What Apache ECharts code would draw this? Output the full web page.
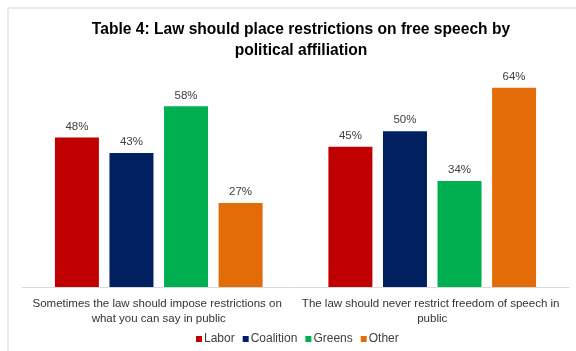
<!DOCTYPE html>
<html><head><meta charset="utf-8">
<script src="https://cdn.jsdelivr.net/npm/echarts@6/dist/echarts.min.js"></script>
<style>html,body{margin:0;padding:0;background:#fff}#c{width:576px;height:351px}</style>
</head><body><div id="c"></div>
<script>
const titleText = 'Table 4: Law should place restrictions on free speech by\npolitical affiliation';
const categories = ['Sometimes the law should impose restrictions on what you can say in public', 'The law should never restrict freedom of speech in public'];
const seriesNames = ['Labor', 'Coalition', 'Greens', 'Other'];
const labor = [48, 45];
const coalition = [43, 50];
const greens = [58, 34];
const other = [27, 64];
const colors = ['#C00000', '#002060', '#00B050', '#E36C09'];
const values = [labor, coalition, greens, other];

const chart = echarts.init(document.getElementById('c'), null, {renderer: 'canvas'});
chart.setOption({
  animation: false,
  textStyle: {fontFamily: 'Liberation Sans, Arial, sans-serif'},
  graphic: [
    {type: 'line', shape: {x1: 8, y1: 8, x2: 576, y2: 8}, style: {stroke: '#ebebeb', lineWidth: 2}, silent: true},
    {type: 'line', shape: {x1: 8, y1: 8, x2: 8, y2: 351}, style: {stroke: '#ebebeb', lineWidth: 2}, silent: true}
  ],
  title: {
    text: titleText, left: 301, textAlign: 'center', top: 19, padding: 0,
    textStyle: {fontSize: 15.6, fontWeight: 'bold', color: '#000', lineHeight: 21, fontFamily: 'Liberation Sans, Arial, sans-serif'}
  },
  legend: {
    data: seriesNames, bottom: 6, left: 196, padding: 0, icon: 'rect', itemWidth: 6, itemHeight: 6, itemGap: 8,
    textStyle: {fontSize: 12, color: '#404040', padding: [0, 0, 0, -3]}
  },
  grid: {left: 22, right: 7, top: 69, bottom: 64, containLabel: false},
  xAxis: {
    type: 'category', data: categories,
    axisLine: {lineStyle: {color: '#d9d9d9', width: 1}}, axisTick: {show: false},
    axisLabel: {fontSize: 11.5, color: '#333', width: 262, overflow: 'break', lineHeight: 15, margin: 9, interval: 0}
  },
  yAxis: {type: 'value', min: 0, max: 70, show: false, splitLine: {show: false}},
  series: seriesNames.map((n, i) => ({
    name: n, type: 'bar', data: values[i], barWidth: 44, barGap: '24%',
    itemStyle: {color: colors[i]},
    label: {show: true, position: 'top', distance: 5, formatter: '{c}%', fontSize: 11.5, color: '#404040'}
  }))
});
</script></body></html>
